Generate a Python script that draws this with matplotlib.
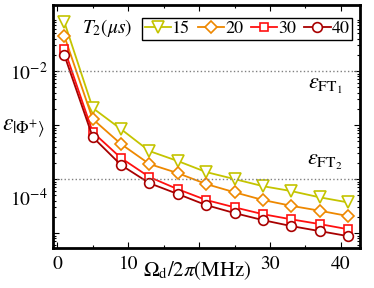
import numpy as np
import matplotlib
matplotlib.use('Agg')
import matplotlib.pyplot as plt
import matplotlib.transforms as mtransforms
from matplotlib.ticker import FixedLocator, LogLocator, NullFormatter

plt.rcParams['font.family'] = 'STIXGeneral'
plt.rcParams['mathtext.fontset'] = 'stix'

omega = [1, 5, 9, 13, 17, 21, 25, 29, 33, 37, 41]
t2_labels = ['15', '20', '30', '40']
eps_15 = [0.081, 2.07e-3, 8.4e-4, 3.3e-4, 2.16e-4, 1.35e-4, 1.0e-4, 7.4e-5, 6.0e-5, 4.6e-5, 3.7e-5]
eps_20 = [0.0445, 1.29e-3, 4.45e-4, 1.9e-4, 1.29e-4, 8.1e-5, 5.7e-5, 4.1e-5, 3.2e-5, 2.6e-5, 2.07e-5]
eps_30 = [0.0255, 7.4e-4, 2.45e-4, 1.09e-4, 6.5e-5, 4.1e-5, 3.0e-5, 2.24e-5, 1.8e-5, 1.47e-5, 1.18e-5]
eps_40 = [0.0198, 6.0e-4, 1.82e-4, 8.4e-5, 5.3e-5, 3.3e-5, 2.35e-5, 1.74e-5, 1.35e-5, 1.09e-5, 8.8e-6]
eps_ft1 = 1e-2
eps_ft2 = 1e-4

colors = ['#c4c400', '#ee8800', '#ff1010', '#a80000']
markers = ['v', 'D', 's', 'o']
msizes = [8, 6, 6, 7]

fig = plt.figure(figsize=(3.74, 2.88), dpi=100)
ax = fig.add_axes([0.1417, 0.1389, 0.8209, 0.8437])

for ys, lab, c, m, ms in zip([eps_15, eps_20, eps_30, eps_40], t2_labels, colors, markers, msizes):
    ax.plot(omega, ys, color=c, marker=m, ms=ms, mfc='white', mec=c, mew=1.2, lw=1.3, label=lab)

ax.axhline(eps_ft1, color='gray', ls=':', lw=1)
ax.axhline(eps_ft2, color='gray', ls=':', lw=1)

ax.set_yscale('log')
ax.set_xlim(-0.6, 42.7)
ax.set_ylim(5.3e-6, 0.167)

ax.set_xticks([0, 10, 20, 30, 40])
ax.set_xticklabels(['0', '10', '', '30', '40'])
ax.set_xticks([5, 15, 25, 35], minor=True)

ax.yaxis.set_major_locator(FixedLocator([1e-5, 1e-4, 1e-3, 1e-2]))
ax.set_yticklabels(['', r'$10^{-4}$', '', r'$10^{-2}$'])
ax.yaxis.set_minor_locator(LogLocator(base=10, subs=np.arange(2, 10)))
ax.yaxis.set_minor_formatter(NullFormatter())

ax.tick_params(which='both', direction='in', top=True, right=True, labelsize=14, width=0.8)
ax.tick_params(which='major', length=4)
ax.tick_params(which='minor', length=2)
ax.tick_params(axis='x', pad=6)
for s in ax.spines.values():
    s.set_linewidth(2)

# the 10^-4 label sits below its tick in the reference
off = mtransforms.ScaledTranslation(0, -18 / 100, fig.dpi_scale_trans)
lbl = ax.yaxis.get_majorticklabels()[1]
lbl.set_transform(lbl.get_transform() + off)

ax.set_xlabel(r'$\Omega_{\rm d}/2\pi(\rm MHz)$', fontsize=15)
ax.xaxis.set_label_coords(0.469, -0.045)
ax.set_ylabel(r'$\varepsilon_{|\Phi^{+}\rangle}$', fontsize=17, rotation=0, ha='center', va='center')
ax.yaxis.set_label_coords(-0.095, 0.494)

ax.text(0.886, 0.667, r'$\varepsilon_{\rm FT_1}$', transform=ax.transAxes, fontsize=16, ha='center', va='center')
ax.text(0.886, 0.354, r'$\varepsilon_{\rm FT_2}$', transform=ax.transAxes, fontsize=16, ha='center', va='center')

leg = ax.legend(loc='upper right', bbox_to_anchor=(0.974, 0.947), ncol=4, fontsize=13,
                handlelength=1.45, handletextpad=0.05, columnspacing=0.45, borderpad=0.15,
                borderaxespad=0, fancybox=False, edgecolor='black', framealpha=1)
leg.get_frame().set_linewidth(1)
ax.text(0.26, 0.905, r'$T_2(\mu s)$', transform=ax.transAxes, fontsize=14, ha='right', va='center')

plt.savefig('out.png', dpi=100)
